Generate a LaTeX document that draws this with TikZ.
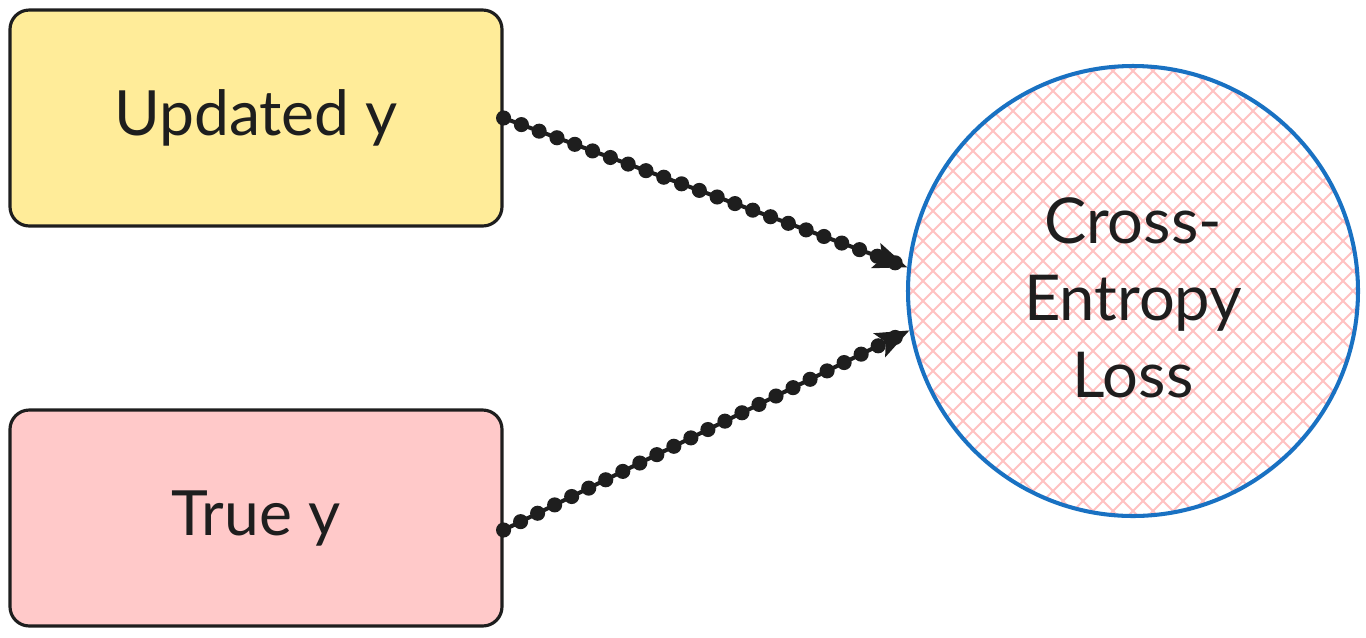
\documentclass[tikz,border=0pt]{standalone}
\usepackage{fontspec}
\setmainfont{Lato}
\usetikzlibrary{arrows.meta,calc,positioning}

\definecolor{inkdark}{HTML}{1E1E1E}
\definecolor{boxyellow}{HTML}{FFEC99}
\definecolor{boxpink}{HTML}{FFC9C9}
\definecolor{hatchpink}{HTML}{FFC2C2}
\definecolor{ringblue}{HTML}{1971C2}

\tikzset{
	inbox/.style={draw=inkdark, line width=1.8pt, rounded corners=11pt,
		minimum width=492*0.02cm, minimum height=216*0.02cm,
		font=\fontsize{35.5}{42}\selectfont, text=inkdark},
	beadline/.style={draw=inkdark, line width=2.3pt,
		-{Stealth[length=19pt, width=15pt, inset=4pt]},
		postaction={draw=inkdark, -, line width=8.6pt, line cap=round,
			dash pattern=on 0pt off 10.8pt}}
}

\begin{document}
\begin{tikzpicture}[x=0.02cm, y=-0.02cm]

	\useasboundingbox (0,0) rectangle (1366,637);

	\def\rloss{225} % radius of the loss circle in px

	% input boxes
	\node[inbox, fill=boxyellow] (upd) at (256,118) {Updated y};
	\node[inbox, fill=boxpink] (tru) at (256,518) {True y};

	% loss circle, hatched
	\coordinate (c) at (1133,291);
	\begin{scope}
		\clip (c) circle (\rloss);
		\fill[white] (c) circle (\rloss);
		\foreach \k in {-26,...,26} {
			\draw[hatchpink, line width=1.1pt] ($(c)+(\k*20,0)$) ++(-300,-300) -- ++(600,600);
			\draw[hatchpink, line width=1.1pt] ($(c)+(\k*20,0)$) ++(300,-300) -- ++(-600,600);
		}
	\end{scope}
	\node[circle, draw=ringblue, line width=2.3pt, minimum size=2*\rloss*0.02cm] (loss) at (c) {};
	\node[align=center, font=\fontsize{36}{44}\selectfont, text=inkdark] (losstext)
		at ($(loss.center)+(0,7)$) {Cross-\\Entropy\\Loss};

	% connectors
	\draw[beadline] (upd.east) -- (loss.174);
	\draw[beadline] ($(tru.east)+(0,12)$) -- (loss.190);

\end{tikzpicture}
\end{document}
